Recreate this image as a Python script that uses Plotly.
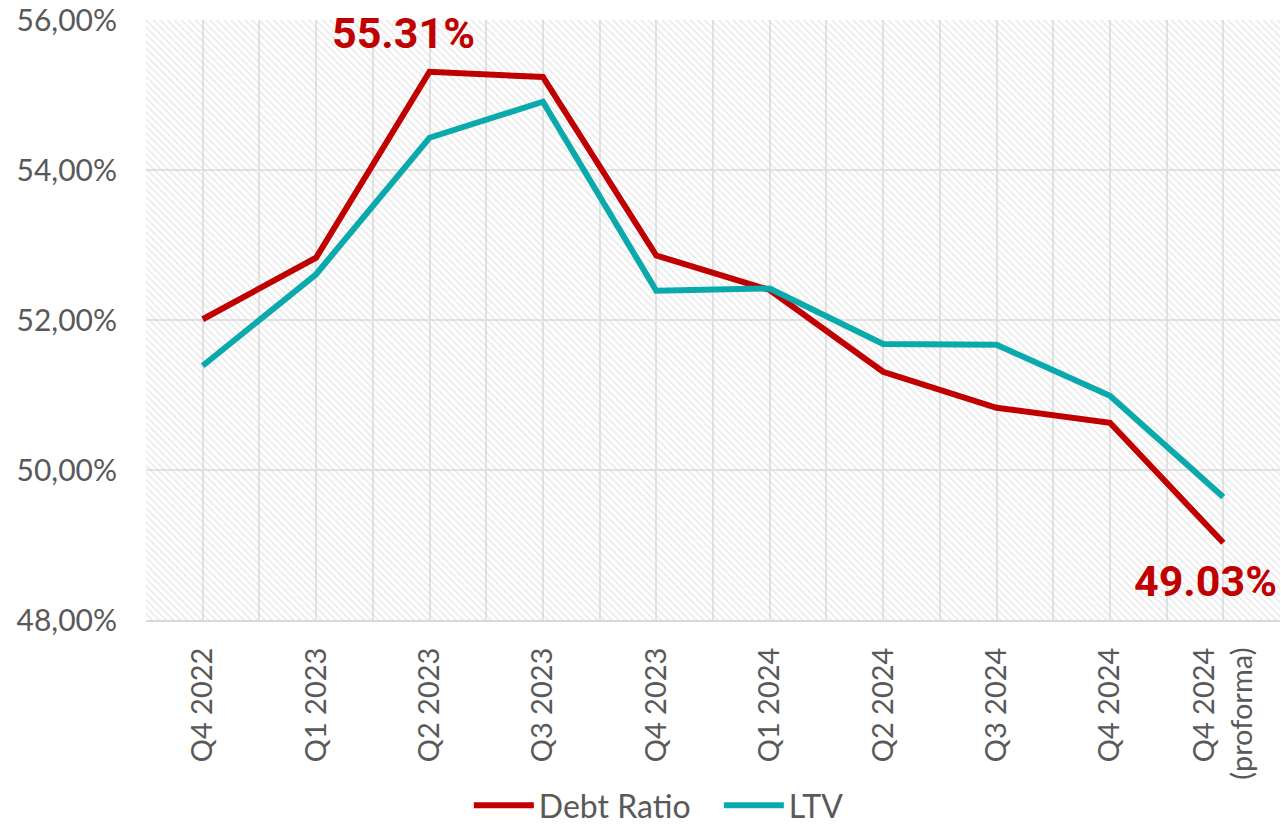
import plotly.graph_objects as go

categories = ["Q4 2022", "Q1 2023", "Q2 2023", "Q3 2023", "Q4 2023",
              "Q1 2024", "Q2 2024", "Q3 2024", "Q4 2024", "Q4 2024<br>(proforma)"]
debt_ratio = [52.01, 52.83, 55.31, 55.24, 52.86, 52.40, 51.31, 50.83, 50.63, 49.03]
ltv = [51.39, 52.61, 54.43, 54.91, 52.39, 52.42, 51.68, 51.67, 50.99, 49.64]
y_min, y_max = 48, 56
y_ticks = [48, 50, 52, 54, 56]

idx = list(range(len(categories)))
RED = "#C00000"
TEAL = "#0AA9AC"
GRAY = "#595959"

fig = go.Figure()

# hatched plot background
fig.add_trace(go.Bar(
    x=idx, y=[y_max - y_min] * len(idx), base=[y_min] * len(idx), width=1,
    marker=dict(color="rgba(0,0,0,0)", line=dict(width=0),
                pattern=dict(shape="\\", fgcolor="#d2d2d2", bgcolor="rgba(0,0,0,0)",
                             size=5, solidity=0.3)),
    showlegend=False, hoverinfo="skip"))

fig.add_trace(go.Scatter(x=idx, y=debt_ratio, mode="lines", name="Debt Ratio",
                         line=dict(color=RED, width=6)))
fig.add_trace(go.Scatter(x=idx, y=ltv, mode="lines", name="LTV",
                         line=dict(color=TEAL, width=6)))

peak_i = debt_ratio.index(max(debt_ratio))
last_i = len(debt_ratio) - 1
fig.add_annotation(x=peak_i, y=debt_ratio[peak_i], text=f"{debt_ratio[peak_i]:.2f}%",
                   showarrow=False, xshift=-26, yshift=39,
                   font=dict(family="Roboto", size=43, color=RED, weight="bold"))
fig.add_annotation(x=last_i, y=debt_ratio[last_i], text=f"{debt_ratio[last_i]:.2f}%",
                   showarrow=False, xshift=-18, yshift=-38,
                   font=dict(family="Roboto", size=43, color=RED, weight="bold"))

fig.update_layout(
    width=1281, height=827,
    margin=dict(l=146, r=1, t=20, b=207),
    plot_bgcolor="white", paper_bgcolor="white",
    separators=",.",
    font=dict(family="Lato", color=GRAY),
    barmode="overlay",
    legend=dict(orientation="h", xref="container", yref="container",
                x=0.366, xanchor="left", y=0.026, yanchor="middle",
                font=dict(size=32, color=GRAY), itemwidth=60, tracegroupgap=0,
                entrywidth=175, entrywidthmode="pixels"),
    xaxis=dict(range=[-0.5, len(idx) - 0.5], tickmode="array", tickvals=idx,
               ticktext=categories, tickangle=-90, showgrid=True, gridcolor="#e3e3e3",
               gridwidth=1.5, zeroline=False, showline=True, linecolor="#d9d9d9",
               linewidth=2, ticks="", ticklabelstandoff=14, automargin=False,
               tickfont=dict(size=29, color=GRAY),
               minor=dict(dtick=0.5, tick0=-0.5, showgrid=True, gridcolor="#e3e3e3",
                          gridwidth=1.5, ticks="")),
    yaxis=dict(range=[y_min, y_max], tickmode="array", tickvals=y_ticks,
               ticktext=[f"{v:.2f}%".replace(".", ",") for v in y_ticks],
               showgrid=True, gridcolor="#e3e3e3", gridwidth=2, zeroline=False,
               showline=False, ticks="", ticklabelstandoff=28, automargin=False,
               tickfont=dict(size=30, color=GRAY)),
)

fig.write_html("out.html", config={"displayModeBar": False},
               post_script="document.body.style.margin='0';document.body.style.overflow='hidden';")
